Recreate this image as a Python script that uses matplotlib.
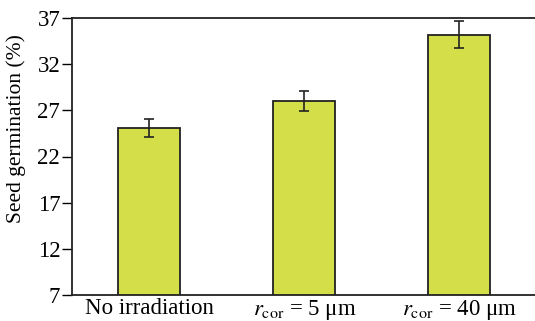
import matplotlib
matplotlib.use("Agg")
import matplotlib.pyplot as plt

plt.rcParams["font.family"] = ["Liberation Serif", "DejaVu Serif"]
plt.rcParams["mathtext.fontset"] = "stix"

categories = ["No irradiation", r"$r_{\mathrm{cor}}$ = 5 μm", r"$r_{\mathrm{cor}}$ = 40 μm"]
germination = [25.1, 28.0, 35.2]
errors = [1.0, 1.05, 1.45]
y_ticks = [7, 12, 17, 22, 27, 32, 37]

fig = plt.figure(figsize=(5.35, 3.21), dpi=100)
ax = fig.add_axes([72 / 535, 26 / 321, 463 / 535, 277 / 321])

x = range(len(categories))
ax.bar(x, germination, width=0.4, bottom=0, color="#d3de48",
       edgecolor="#222222", linewidth=1.3, zorder=2)
ax.errorbar(x, germination, yerr=errors, fmt="none", ecolor="#222222",
            elinewidth=1.2, capsize=3.5, capthick=1.2, zorder=3)

ax.set_xlim(-0.5, 2.49)
ax.set_ylim(7, 37)
ax.set_yticks(y_ticks)
ax.set_xticks(list(x))
ax.set_xticklabels(categories, fontsize=16.5)
ax.tick_params(axis="x", length=0, pad=2.5)
ax.tick_params(axis="y", direction="out", length=7, width=1, labelsize=16.5, pad=1.5)
ax.set_ylabel("Seed germination (%)", fontsize=15.5)
ax.yaxis.set_label_coords(-0.099, 0.60)

ax.spines["right"].set_visible(False)
for s in ["left", "bottom", "top"]:
    ax.spines[s].set_linewidth(1.3)
    ax.spines[s].set_color("#222222")

fig.savefig("out.png", dpi=100)
